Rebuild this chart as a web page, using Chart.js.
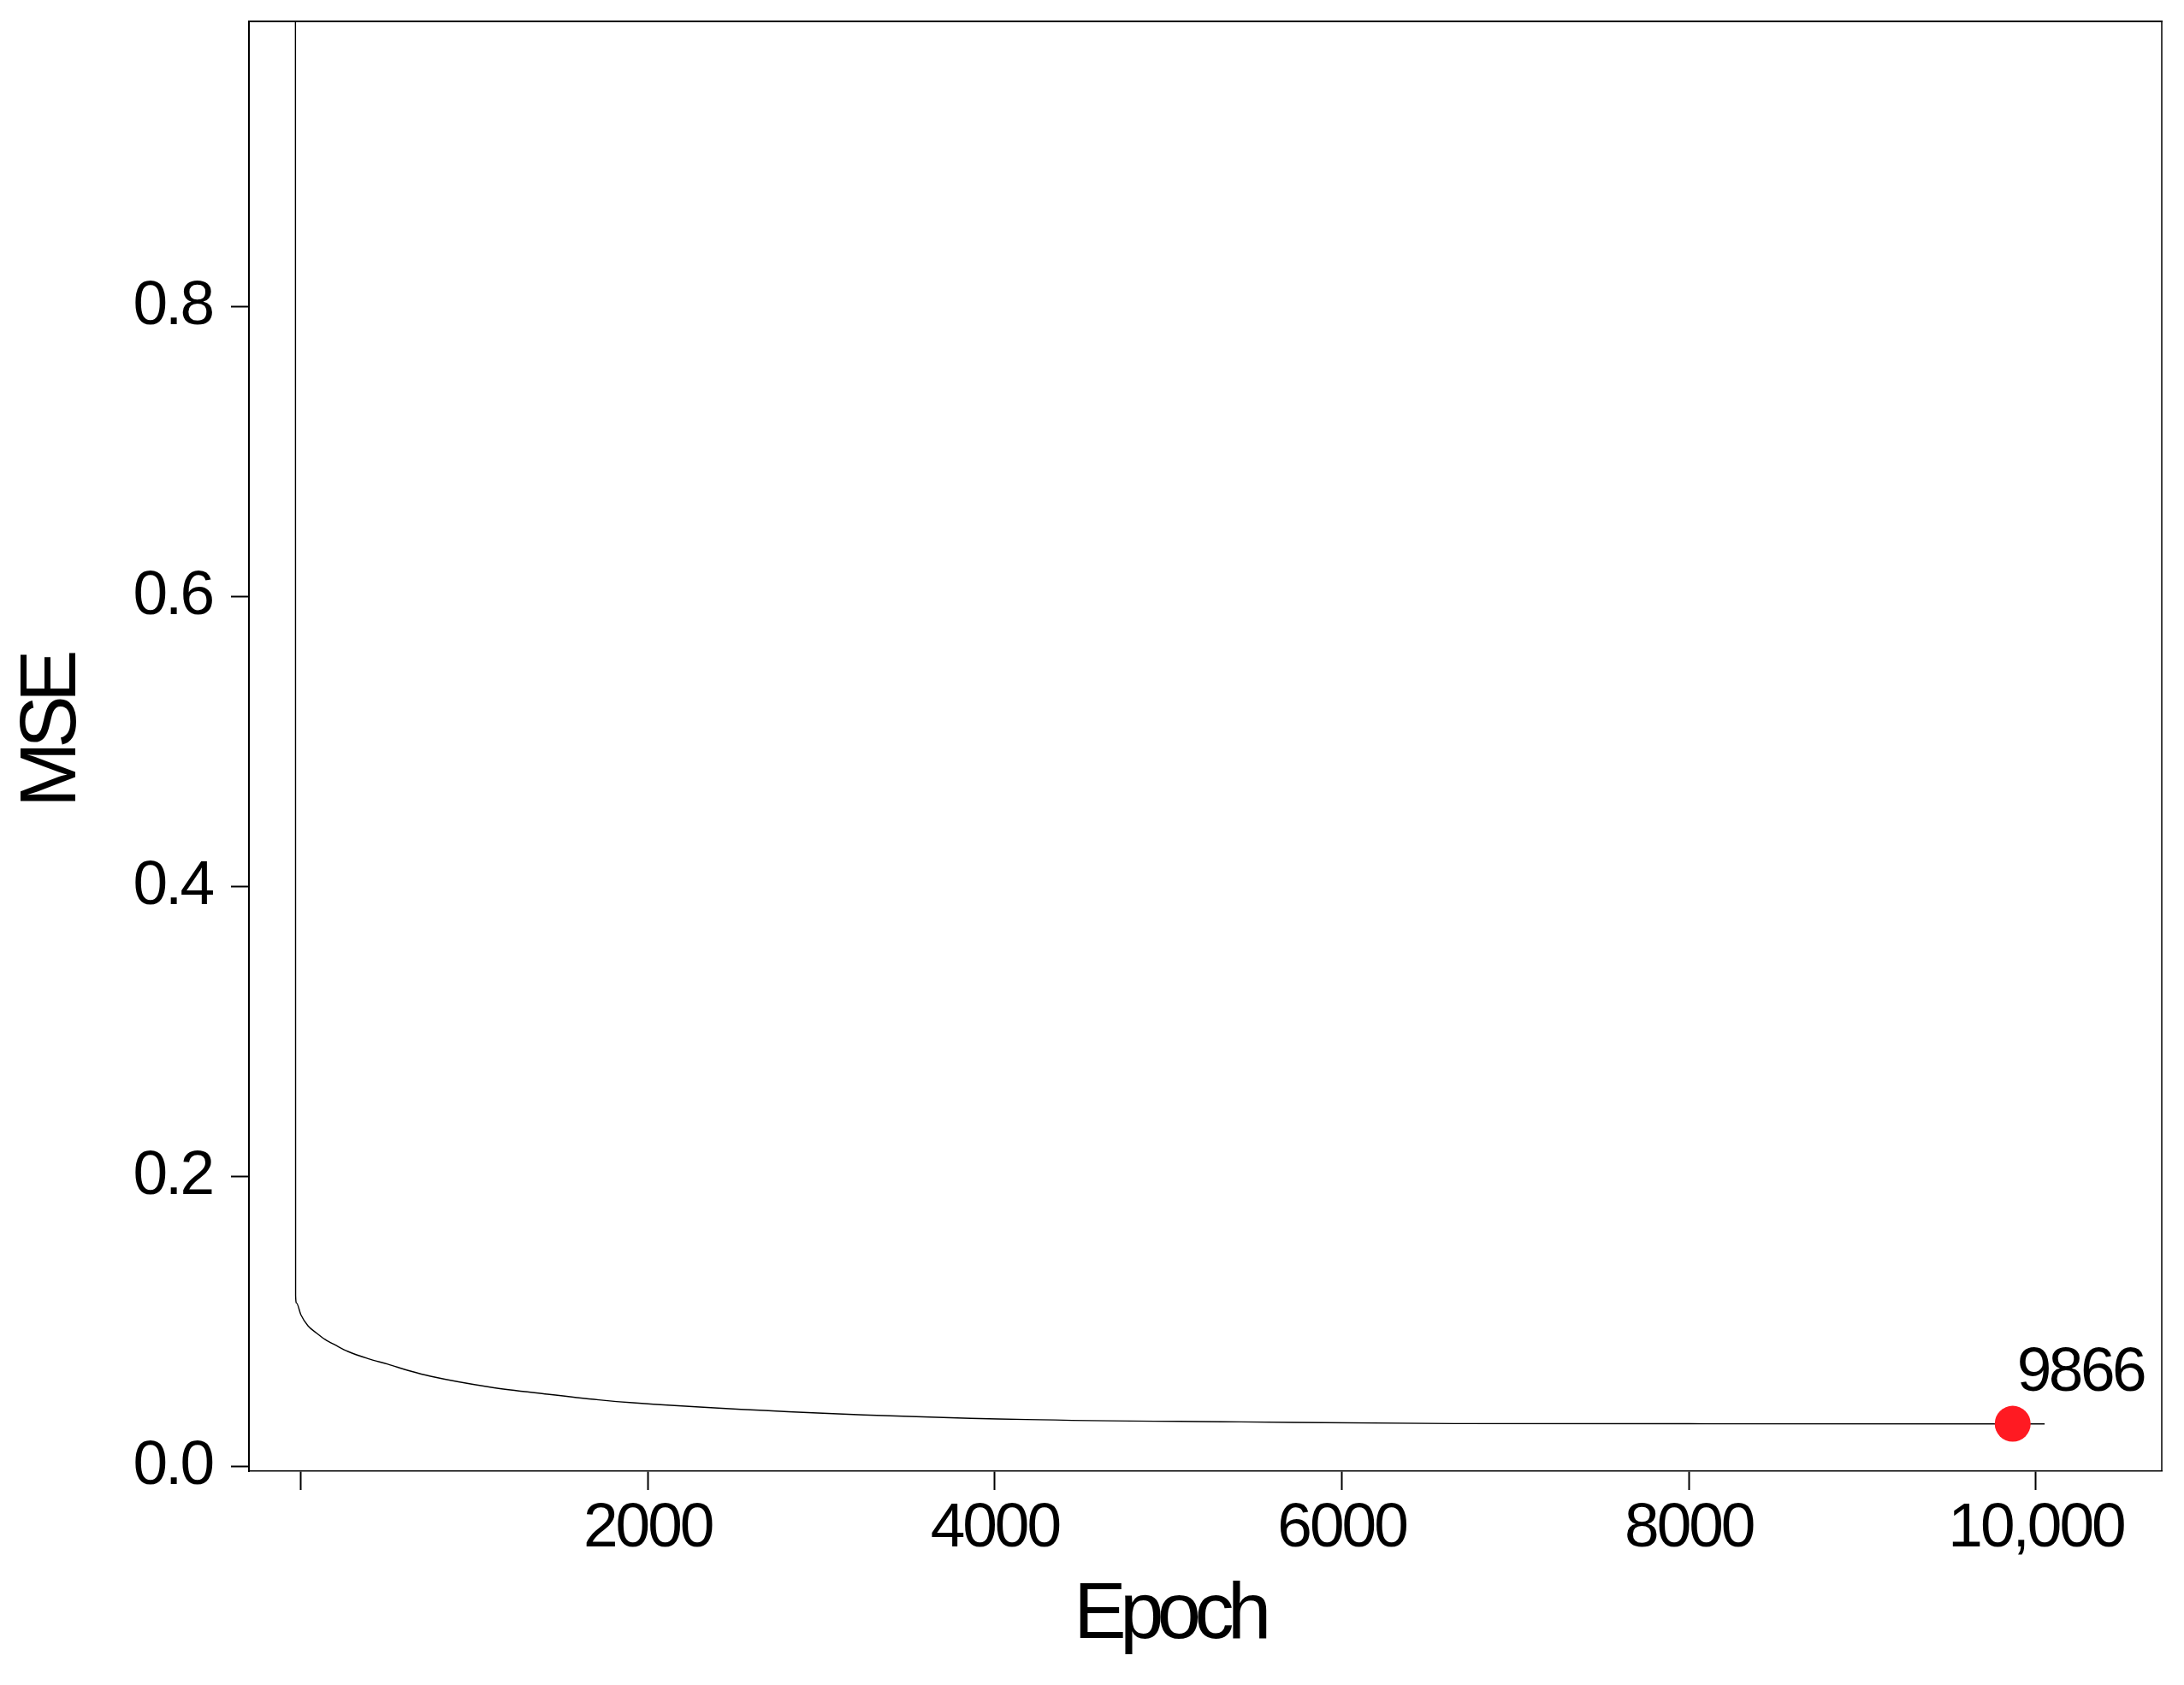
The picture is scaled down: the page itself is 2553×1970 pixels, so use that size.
<!DOCTYPE html>
<html>
<head>
<meta charset="utf-8">
<script src="https://cdn.jsdelivr.net/npm/chart.js@4/dist/chart.umd.min.js"></script>
<style>
html, body { margin: 0; padding: 0; background: #ffffff; }
canvas { display: block; }
</style>
</head>
<body>
<canvas id="c" width="2553" height="1970"></canvas>
<script>
// ---- data ----
const epochs    = [-30, -29, -24, 1, 42, 91, 140, 206, 272, 387, 502, 633, 748, 1092, 1422, 1718, 1915, 2951, 4183, 5415, 6648, 8000, 10050];
const mseValues = [1.0, 0.118, 0.113, 0.105, 0.0973, 0.0923, 0.0879, 0.0836, 0.0796, 0.0747, 0.0708, 0.0660, 0.0625, 0.055, 0.0501, 0.0462, 0.0442, 0.0373, 0.0326, 0.0310, 0.0298, 0.0297, 0.0296];
const markerEpoch  = [9866];
const markerMse    = [0.0297];
const markerLabels = ['9866'];
const xTickValues = [0, 2000, 4000, 6000, 8000, 10000];
const xTickLabels = ['', '2000', '4000', '6000', '8000', '10,000'];
const yTickValues = [0, 0.2, 0.4, 0.6, 0.8];
const yTickLabels = ['0.0', '0.2', '0.4', '0.6', '0.8'];
const xTitle = 'Epoch';
const yTitle = 'MSE';

const FONT = '"Liberation Sans", Arial, Helvetica, sans-serif';

const linePoints = epochs.map((e, i) => ({ x: e, y: mseValues[i] }));
const markerPoints = markerEpoch.map((e, i) => ({ x: e, y: markerMse[i] }));

const stylePlugin = {
  id: 'stylePlugin',
  beforeDraw(chart) {
    chart.ctx.letterSpacing = '-3px';
    ['x', 'y'].forEach(id => {
      const s = chart.scales[id];
      if (s && !s._patchedTitle) {
        const orig = s.drawTitle;
        const shift = id === 'x' ? [-42, 0] : [0, -17];
        s.drawTitle = function () {
          const ctx = this.ctx;
          ctx.save();
          ctx.letterSpacing = '-7.5px';
          ctx.translate(shift[0], shift[1]);
          orig.call(this);
          ctx.restore();
        };
        s._patchedTitle = true;
      }
    });
  },
  afterDatasetsDraw(chart) {
    const meta = chart.getDatasetMeta(0);
    const ctx = chart.ctx;
    ctx.save();
    ctx.font = '73px ' + FONT;
    ctx.letterSpacing = '-3.5px';
    ctx.fillStyle = '#000000';
    ctx.textAlign = 'left';
    ctx.textBaseline = 'alphabetic';
    meta.data.forEach((pt, i) => {
      ctx.fillText(markerLabels[i], pt.x + 5, pt.y - 39);
    });
    ctx.restore();
  },
  afterDraw(chart) {
    const a = chart.chartArea;
    const ctx = chart.ctx;
    ctx.save();
    ctx.strokeStyle = '#000000';
    ctx.lineWidth = 2;
    ctx.beginPath();
    ctx.moveTo(a.left - 1, a.top);
    ctx.lineTo(a.right + 1, a.top);
    ctx.stroke();
    ctx.lineWidth = 1.5;
    ctx.beginPath();
    ctx.moveTo(a.right, a.top);
    ctx.lineTo(a.right, a.bottom);
    ctx.stroke();
    ctx.restore();
  }
};

function fixPad(scale) {
  scale.paddingTop = 0;
  scale.paddingBottom = 0;
  scale.paddingLeft = 0;
  scale.paddingRight = 0;
}

new Chart(document.getElementById('c'), {
  type: 'scatter',
  data: {
    datasets: [
      {
        label: 'best',
        data: markerPoints,
        pointRadius: 21,
        pointHoverRadius: 21,
        pointBackgroundColor: '#ff1a22',
        pointBorderColor: '#ff1a22',
        pointBorderWidth: 0,
        showLine: false
      },
      {
        label: 'MSE',
        data: linePoints,
        showLine: true,
        borderColor: '#000000',
        borderWidth: 1.4,
        pointRadius: 0,
        pointHoverRadius: 0,
        fill: false,
        cubicInterpolationMode: 'monotone'
      }
    ]
  },
  options: {
    responsive: false,
    devicePixelRatio: 1,
    animation: false,
    events: [],
    layout: { padding: { top: 25, right: 26, left: 0, bottom: 0 } },
    plugins: {
      legend: { display: false },
      tooltip: { enabled: false },
      title: { display: false }
    },
    scales: {
      x: {
        type: 'linear',
        position: 'bottom',
        min: -298,
        max: 10725,
        afterFit(scale) { scale.height = 250; fixPad(scale); },
        afterBuildTicks(scale) { scale.ticks = xTickValues.map(v => ({ value: v })); },
        ticks: {
          autoSkip: false,
          maxRotation: 0,
          minRotation: 0,
          padding: 2,
          color: '#000000',
          font: { family: FONT, size: 73 },
          callback: (value, index) => xTickLabels[index]
        },
        grid: {
          display: true,
          drawOnChartArea: false,
          drawTicks: true,
          tickLength: 22,
          tickWidth: 2,
          tickColor: '#000000',
          color: '#000000'
        },
        border: { display: true, color: '#000000', width: 1.5 },
        title: {
          display: true,
          text: xTitle,
          color: '#000000',
          font: { family: FONT, size: 92 },
          padding: { top: 0, bottom: 25 }
        }
      },
      y: {
        type: 'linear',
        position: 'left',
        min: -0.003,
        max: 0.997,
        afterFit(scale) { scale.width = 291; fixPad(scale); },
        afterBuildTicks(scale) { scale.ticks = yTickValues.map(v => ({ value: v })); },
        ticks: {
          autoSkip: false,
          padding: 22,
          color: '#000000',
          font: { family: FONT, size: 73 },
          callback: (value, index) => yTickLabels[index]
        },
        grid: {
          display: true,
          drawOnChartArea: false,
          drawTicks: true,
          tickLength: 21,
          tickWidth: 2,
          tickColor: '#000000',
          color: '#000000'
        },
        border: { display: true, color: '#000000', width: 2 },
        title: {
          display: true,
          text: yTitle,
          color: '#000000',
          font: { family: FONT, size: 92 },
          padding: { top: 7, bottom: 0 }
        }
      }
    }
  },
  plugins: [stylePlugin]
});
</script>
</body>
</html>
